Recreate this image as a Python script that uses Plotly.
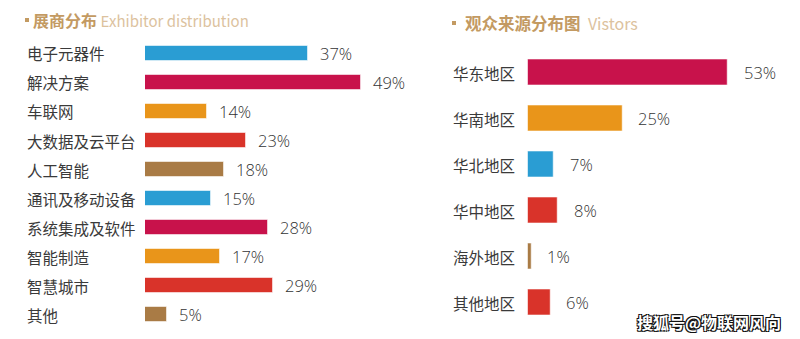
import plotly.graph_objects as go

W, H = 800, 339

# Left chart: exhibitor distribution
ex_cats = ["电子元器件", "解决方案", "车联网", "大数据及云平台", "人工智能",
           "通讯及移动设备", "系统集成及软件", "智能制造", "智慧城市", "其他"]
ex_vals = [37, 49, 14, 23, 18, 15, 28, 17, 29, 5]
ex_colors = ["#2a9dd3", "#c8124b", "#e9951a", "#d9332a", "#a97b45",
             "#2a9dd3", "#c8124b", "#e9951a", "#d9332a", "#a97b45"]

# Right chart: visitors
vi_cats = ["华东地区", "华南地区", "华北地区", "华中地区", "海外地区", "其他地区"]
vi_vals = [53, 25, 7, 8, 1, 6]
vi_colors = ["#c8124b", "#e9951a", "#2a9dd3", "#d9332a", "#a97b45", "#d9332a"]

title_left = ("展商分布", "Exhibitor distribution")
title_right = ("观众来源分布图", "Vistors")
watermark = "搜狐号@物联网风向"

FONT = "Noto Sans CJK SC"
NUMFONT = "Open Sans"
TXT = "#3a3a3a"
NUM = "#333333"
GOLD = "#c39a62"
GOLD_L = "#dcc29e"

def px(x):
    return x / W

def py(y):
    return 1 - y / H

fig = go.Figure()

fig.add_trace(go.Bar(
    x=ex_vals, y=ex_cats, orientation="h", xaxis="x", yaxis="y",
    marker=dict(color=ex_colors, line=dict(color="rgba(255,255,255,0.55)", width=1)),
    width=0.53, hoverinfo="skip", showlegend=False,
))
fig.add_trace(go.Bar(
    x=vi_vals, y=vi_cats, orientation="h", xaxis="x2", yaxis="y2",
    marker=dict(color=vi_colors, line=dict(color="rgba(255,255,255,0.55)", width=1)),
    width=0.55, hoverinfo="skip", showlegend=False,
))

ann = []
for c, v in zip(ex_cats, ex_vals):
    ann.append(dict(x=px(25), xref="paper", y=c, yref="y", text=c, showarrow=False,
                    xanchor="left", yanchor="middle",
                    font=dict(family=FONT, size=15.5, color=TXT)))
    ann.append(dict(x=v, xref="x", y=c, yref="y", text=f"{v}%", showarrow=False,
                    xanchor="left", yanchor="middle", xshift=10,
                    font=dict(family=NUMFONT, size=16.5, color=NUM, weight=300)))
for c, v in zip(vi_cats, vi_vals):
    ann.append(dict(x=px(451), xref="paper", y=c, yref="y2", text=c, showarrow=False,
                    xanchor="left", yanchor="middle",
                    font=dict(family=FONT, size=15.5, color=TXT)))
    ann.append(dict(x=v, xref="x2", y=c, yref="y2", text=f"{v}%", showarrow=False,
                    xanchor="left", yanchor="middle", xshift=14,
                    font=dict(family=NUMFONT, size=16.5, color=NUM, weight=300)))

ann.append(dict(x=px(31), xref="paper", y=py(20), yref="paper", showarrow=False,
                xanchor="left", yanchor="middle",
                text=f"<b>{title_left[0]}</b> <span style='color:{GOLD_L};font-size:15px'>{title_left[1]}</span>",
                font=dict(family=FONT, size=16, color=GOLD)))
ann.append(dict(x=px(463), xref="paper", y=py(23), yref="paper", showarrow=False,
                xanchor="left", yanchor="middle",
                text=f"<b>{title_right[0]}</b>  <span style='color:{GOLD_L};font-size:16px'>{title_right[1]}</span>",
                font=dict(family=FONT, size=16.5, color=GOLD)))
ann.append(dict(x=px(783), xref="paper", y=py(322), yref="paper", showarrow=False,
                xanchor="right", yanchor="middle", text=f"<b>{watermark}</b>",
                font=dict(family=FONT, size=16, color="white",
                          shadow="1px 1px 0 #111, -1px -1px 0 #111, 1px -1px 0 #111, -1px 1px 0 #111")))

shapes = [
    dict(type="rect", xref="paper", yref="paper", x0=px(25), x1=px(29), y0=py(18), y1=py(22),
         fillcolor=GOLD, line=dict(width=0)),
    dict(type="rect", xref="paper", yref="paper", x0=px(452), x1=px(456), y0=py(21), y1=py(25),
         fillcolor=GOLD, line=dict(width=0)),
]

fig.update_layout(
    width=W, height=H, margin=dict(l=0, r=0, t=0, b=0),
    paper_bgcolor="white", plot_bgcolor="white",
    annotations=ann, shapes=shapes,
    xaxis=dict(domain=[px(145), px(400)], range=[0, 255 / 4.4], visible=False, fixedrange=True),
    yaxis=dict(domain=[py(329), py(39)], range=[9.5, -0.5], visible=False,
               categoryorder="array", categoryarray=ex_cats, fixedrange=True),
    xaxis2=dict(domain=[px(527.7), 1], range=[0, 272.3 / 3.78], visible=False, fixedrange=True),
    yaxis2=dict(domain=[py(325.5), py(49.5)], range=[5.5, -0.5], visible=False,
                categoryorder="array", categoryarray=vi_cats, fixedrange=True),
    bargap=0,
)

fig.write_html("out.html")
